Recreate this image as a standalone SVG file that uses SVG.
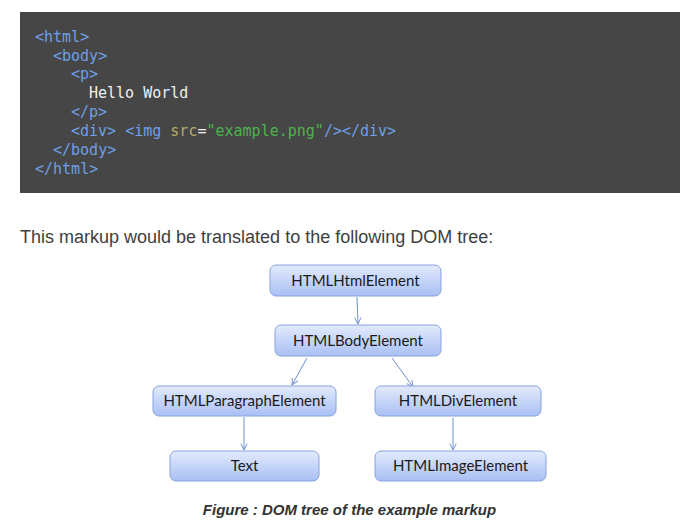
<svg xmlns="http://www.w3.org/2000/svg" width="695" height="531" viewBox="0 0 695 531">
<defs>
<linearGradient id="g" x1="0" y1="0" x2="0" y2="1">
<stop offset="0" stop-color="#e3eafc"/>
<stop offset="1" stop-color="#a9c0f4"/>
</linearGradient>
<marker id="ah" viewBox="0 0 10 10" refX="9" refY="5" markerWidth="8" markerHeight="8" orient="auto" markerUnits="userSpaceOnUse">
<path d="M1,1 L9,5 L1,9" fill="none" stroke="#6f8fd2" stroke-width="1.2"/>
</marker>
</defs>
<style>
.code{font-family:"DejaVu Sans Mono","Liberation Mono",monospace;font-size:15px;}
.tag{fill:#6f9fe4;}
.txt{fill:#f0f0f0;}
.attr{fill:#b4ad6a;}
.str{fill:#4db34d;}
.box{fill:url(#g);stroke:#88a3dc;stroke-width:1;}
.lbl{font-family:Lato,"Open Sans",sans-serif;font-size:15px;fill:#1a1a1a;text-anchor:middle;}
.con{stroke:#6f8fd2;stroke-width:1;fill:none;marker-end:url(#ah);}
</style>
<rect width="695" height="531" fill="#ffffff"/>
<rect x="20" y="12" width="660" height="181" fill="#464646"/>
<g class="code">
<text x="35" y="42" class="tag">&lt;html&gt;</text>
<text x="53" y="61" class="tag">&lt;body&gt;</text>
<text x="71" y="79" class="tag">&lt;p&gt;</text>
<text x="89" y="98" class="txt">Hello World</text>
<text x="71" y="117" class="tag">&lt;/p&gt;</text>
<text x="71" y="136"><tspan class="tag">&lt;div&gt; &lt;img </tspan><tspan class="attr">src</tspan><tspan class="txt">=</tspan><tspan class="str">"example.png"</tspan><tspan class="tag">/&gt;&lt;/div&gt;</tspan></text>
<text x="53" y="155" class="tag">&lt;/body&gt;</text>
<text x="35" y="174" class="tag">&lt;/html&gt;</text>
</g>
<text x="20" y="243" font-family="Liberation Sans, Arial, sans-serif" font-size="18" fill="#404040">This markup would be translated to the following DOM tree:</text>
<g id="connectors">
<line class="con" x1="357" y1="297" x2="358" y2="324"/>
<line class="con" x1="307" y1="358" x2="292" y2="385"/>
<line class="con" x1="392" y1="358" x2="413" y2="387"/>
<line class="con" x1="244" y1="417" x2="244" y2="450"/>
<line class="con" x1="453" y1="418" x2="453" y2="450"/>
</g>
<g id="html"><rect class="box" x="270" y="265" width="171" height="31" rx="6"/><text class="lbl" x="355.5" y="286">HTMLHtmlElement</text></g>
<g id="body"><rect class="box" x="275" y="325" width="166" height="31" rx="6"/><text class="lbl" x="358" y="346">HTMLBodyElement</text></g>
<g id="para"><rect class="box" x="153" y="386" width="183" height="30" rx="6"/><text class="lbl" x="244.5" y="406">HTMLParagraphElement</text></g>
<g id="div"><rect class="box" x="375" y="386" width="166" height="30" rx="6"/><text class="lbl" x="458" y="406">HTMLDivElement</text></g>
<g id="text"><rect class="box" x="170" y="451" width="149" height="30" rx="6"/><text class="lbl" x="244.5" y="471">Text</text></g>
<g id="img"><rect class="box" x="375" y="451" width="171" height="30" rx="6"/><text class="lbl" x="460.5" y="471">HTMLImageElement</text></g>
<text x="349.5" y="515" text-anchor="middle" font-family="Liberation Sans, Arial, sans-serif" font-size="15" font-weight="bold" font-style="italic" fill="#333">Figure : DOM tree of the example markup</text>
</svg>
